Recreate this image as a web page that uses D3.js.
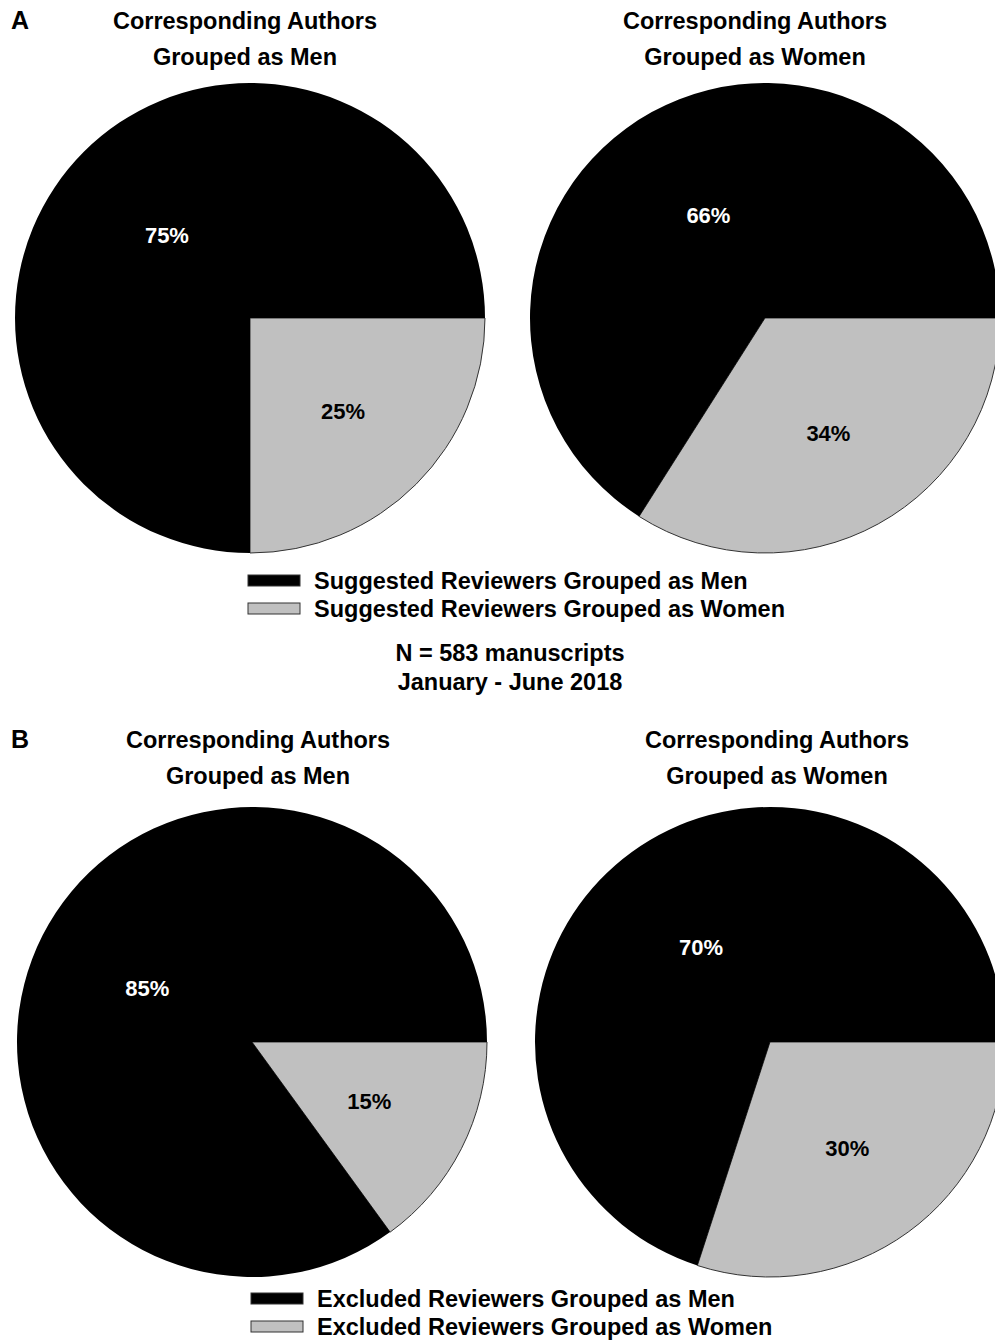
<!DOCTYPE html>
<head>
    <meta charset="utf-8">
    <title>Suggested and excluded reviewers</title>
    <style>
        html, body {
            margin: 0;
            background: #fff;
        }
        text {
            font-family: "Liberation Sans", Arial, sans-serif;
            font-weight: bold;
        }
    </style>
</head>
<body>
<script src="https://cdn.jsdelivr.net/npm/d3@7"></script>
<script>

    const width = 995,
        height = 1340;

    // values
    const panelLetters = ["A", "B"];
    const authorGroups = ["Grouped as Men", "Grouped as Women"];
    const menShare = [75, 66, 85, 70];     // A-men, A-women, B-men, B-women
    const womenShare = [25, 34, 15, 30];
    const legendA = ["Suggested Reviewers Grouped as Men", "Suggested Reviewers Grouped as Women"];
    const legendB = ["Excluded Reviewers Grouped as Men", "Excluded Reviewers Grouped as Women"];
    const noteA = ["N = 583 manuscripts", "January - June 2018"];

    const colors = ["#c0c0c0", "#000000"];   // women, men

    const svg = d3.select("body").append("svg")
        .attr("width", width)
        .attr("height", height);

    const r = 235;
    const centers = [[250, 318], [765, 318], [252, 1042], [770, 1042]];
    const titleX = [245, 755, 258, 777];
    const titleY = [29, 748];

    const pie = d3.pie()
        .sort(null)
        .startAngle(Math.PI / 2)
        .endAngle(Math.PI / 2 + 2 * Math.PI);

    const arc = d3.arc().innerRadius(0).outerRadius(r);
    // women label a bit further out than men label
    const labelArcs = [
        d3.arc().innerRadius(r * 0.56).outerRadius(r * 0.56),
        d3.arc().innerRadius(r * 0.5).outerRadius(r * 0.5)
    ];

    panelLetters.forEach((p, i) => {
        svg.append("text")
            .attr("x", 11)
            .attr("y", titleY[i])
            .style("font-size", "25px")
            .text(p);
    });

    menShare.forEach((m, i) => {
        const [cx, cy] = centers[i];
        const g = svg.append("g").attr("transform", `translate(${cx},${cy})`);
        const arcs = pie([womenShare[i], m]);

        g.selectAll("path")
            .data(arcs)
            .enter().append("path")
            .attr("d", arc)
            .attr("fill", (d, j) => colors[j])
            .attr("stroke", (d, j) => j === 0 ? "#333" : "none")
            .attr("stroke-width", 1);

        g.selectAll("text.pct")
            .data(arcs)
            .enter().append("text")
            .attr("class", "pct")
            .attr("transform", (d, j) => `translate(${labelArcs[j].centroid(d)})`)
            .attr("text-anchor", "middle")
            .attr("dy", "0.35em")
            .attr("fill", (d, j) => j === 0 ? "#000" : "#fff")
            .style("font-size", "22px")
            .text(d => d.data + "%");

        const t = svg.append("text")
            .attr("x", titleX[i])
            .attr("y", titleY[Math.floor(i / 2)])
            .attr("text-anchor", "middle")
            .style("font-size", "23.5px");
        t.append("tspan").attr("x", titleX[i]).text("Corresponding Authors");
        t.append("tspan").attr("x", titleX[i]).attr("dy", 36).text(authorGroups[i % 2]);
    });

    function legend(labels, x, y) {
        const g = svg.append("g").attr("transform", `translate(${x},${y})`);
        labels.forEach((l, j) => {
            g.append("rect")
                .attr("x", 0)
                .attr("y", j * 28 - 14)
                .attr("width", 52)
                .attr("height", 11)
                .attr("fill", colors[1 - j])
                .attr("stroke", "#333")
                .attr("stroke-width", 1);
            g.append("text")
                .attr("x", 66)
                .attr("y", j * 28)
                .style("font-size", "23.5px")
                .text(l);
        });
    }

    legend(legendA, 248, 589);
    legend(legendB, 251, 1307);

    noteA.forEach((n, j) => {
        svg.append("text")
            .attr("x", 510)
            .attr("y", 661 + j * 29)
            .attr("text-anchor", "middle")
            .style("font-size", "23.5px")
            .text(n);
    });

</script>
</body>
